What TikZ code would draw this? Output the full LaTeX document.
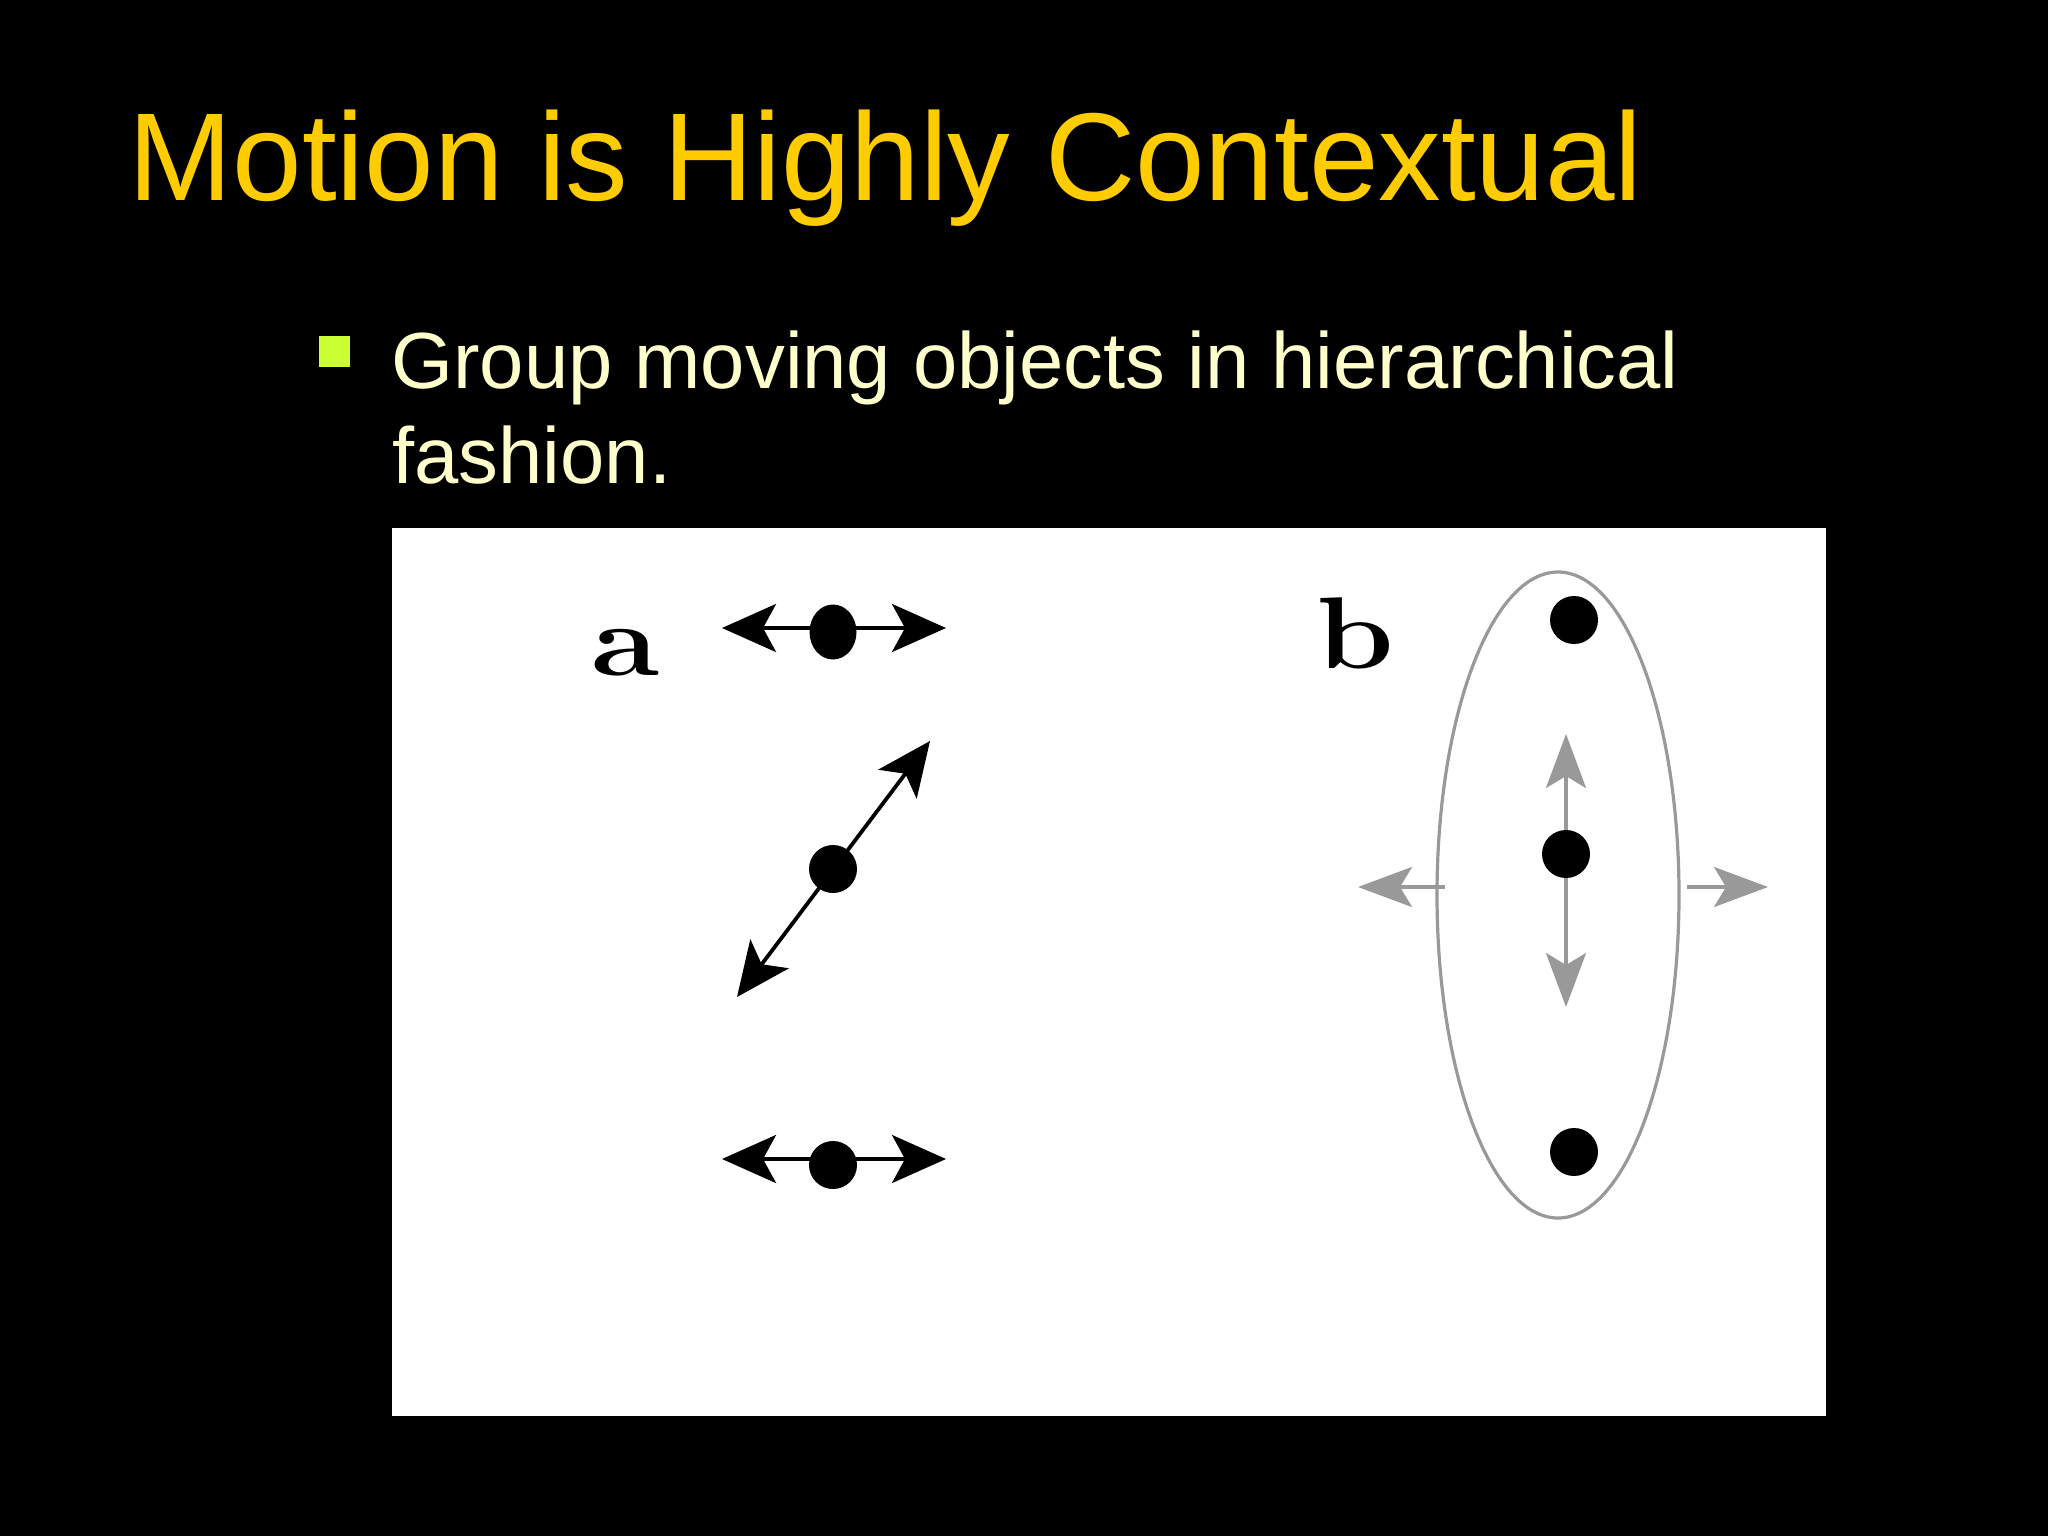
\documentclass[tikz,border=0pt]{standalone}
\usepackage{graphicx}
\usepackage{fontspec}
\newfontfamily\arial{Liberation Sans}
\usetikzlibrary{arrows.meta,shapes.geometric}
\definecolor{titlecol}{HTML}{FFCC00}
\definecolor{textcol}{HTML}{FFFFCC}
\definecolor{bulletcol}{HTML}{CCFF33}
\definecolor{greycol}{HTML}{999999}
\begin{document}
\begin{tikzpicture}[x=0.5pt,y=-0.5pt,
  dot/.style={circle,fill=black,inner sep=0pt,minimum size=24pt},
  edot/.style={ellipse,fill=black,inner sep=0pt,minimum width=23.5pt,minimum height=27.5pt},
  blkarr/.style={line width=1.9pt,{Stealth[length=27pt,width=24pt,inset=6.5pt]}-{Stealth[length=27pt,width=24pt,inset=6.5pt]}},
  gryarr/.style={draw=greycol,line width=1.7pt,-{Stealth[length=27pt,width=20pt,inset=6pt]}},
  gry2arr/.style={draw=greycol,line width=1.7pt,{Stealth[length=27pt,width=20pt,inset=6pt]}-{Stealth[length=27pt,width=20pt,inset=6pt]}},
  txt/.style={inner sep=0pt,anchor=base west}]
\useasboundingbox (0,0) rectangle (2048,1536);
\fill[black] (0,0) rectangle (2048,1536);
% title
\node[txt,text=titlecol,font=\arial\fontsize{62.5pt}{75pt}\selectfont] (title) at (128,200) {Motion is Highly Contextual};
% bullet
\node[fill=bulletcol,inner sep=0pt,minimum size=15.5pt] (bullet) at (334.5,351.5) {};
\node[txt,text=textcol,font=\arial\fontsize{39.8pt}{48pt}\selectfont] (line1) at (391,388) {Group moving objects in hierarchical};
\node[txt,text=textcol,font=\arial\fontsize{39.8pt}{48pt}\selectfont] (line2) at (392,483) {fashion.};
% white panel
\node[fill=white,inner sep=0pt,minimum width=717pt,minimum height=444pt] (panel) at (1109,972) {};
% panel a
\node[txt,font=\fontsize{51pt}{60pt}\selectfont\bfseries] (la) at (591,675) {\scalebox{1.22}[1]{a}};
\coordinate (a1l) at (722,628);
\coordinate (a1r) at (946,628);
\draw[blkarr] (a1l) -- (a1r);
\node[edot] (a1) at (833,632) {};
\coordinate (a2l) at (737,997);
\coordinate (a2r) at (930,741);
\draw[blkarr] (a2l) -- (a2r);
\node[dot] (a2) at (833,869) {};
\coordinate (a3l) at (722,1159);
\coordinate (a3r) at (946,1159);
\draw[blkarr] (a3l) -- (a3r);
\node[dot] (a3) at (833,1165) {};
% panel b
\node[txt,font=\fontsize{51pt}{60pt}\selectfont\bfseries] (lb) at (1316,668) {\scalebox{1.22}[1]{b}};
\node[ellipse,draw=greycol,line width=1.6pt,inner sep=0pt,minimum width=121pt,minimum height=323pt] (grp) at (1558,895) {};
\node[dot] (b1) at (1574,620) {};
\coordinate (bup) at (1566,734);
\coordinate (bdn) at (1566,1007);
\draw[gry2arr] (bup) -- (bdn);
\node[dot] (b2) at (1566,854) {};
\node[dot] (b3) at (1574,1152) {};
\coordinate (bls) at (1445,887);
\coordinate (ble) at (1358,887);
\coordinate (brs) at (1687,887);
\coordinate (bre) at (1768,887);
\draw[gryarr] (bls) -- (ble);
\draw[gryarr] (brs) -- (bre);
\end{tikzpicture}
\end{document}
